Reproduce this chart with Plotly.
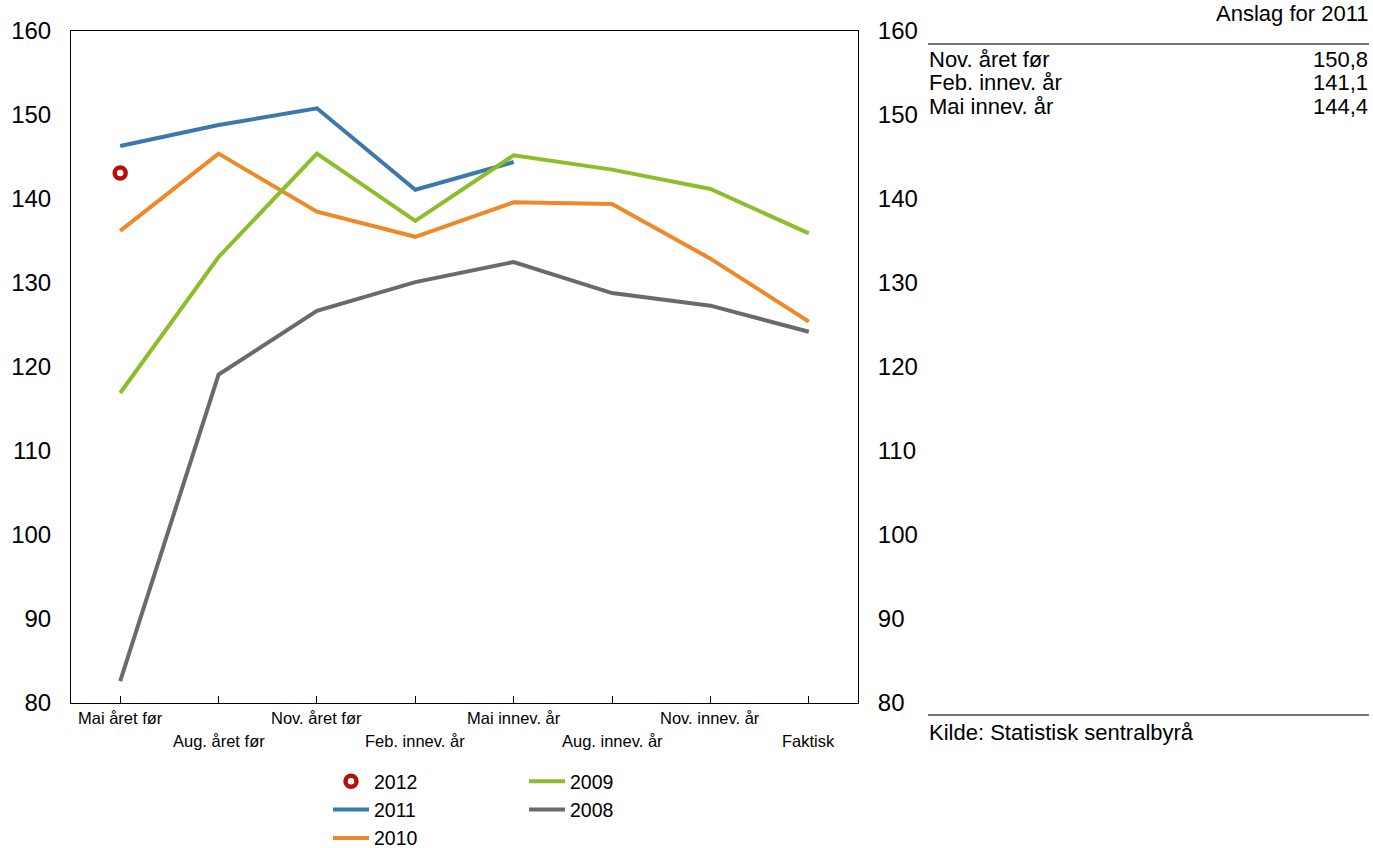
import plotly.graph_objects as go

categories = ["Mai året før", "Aug. året før", "Nov. året før", "Feb. innev. år",
              "Mai innev. år", "Aug. innev. år", "Nov. innev. år", "Faktisk"]
s2012 = [143.1]
s2011 = [146.3, 148.8, 150.8, 141.1, 144.4]
s2010 = [136.2, 145.4, 138.5, 135.5, 139.6, 139.4, 132.9, 125.4]
s2009 = [116.9, 133.1, 145.4, 137.4, 145.2, 143.5, 141.2, 135.9]
s2008 = [82.6, 119.1, 126.7, 130.1, 132.5, 128.8, 127.3, 124.2]
yticks = [80, 90, 100, 110, 120, 130, 140, 150, 160]

table_header = "Anslag for 2011"
table_rows = ["Nov. året før", "Feb. innev. år", "Mai innev. år"]
table_values = ["150,8", "141,1", "144,4"]
source = "Kilde: Statistisk sentralbyrå"

BLUE = "#3a78ad"
ORANGE = "#ef8826"
GREEN = "#8dbd2a"
GRAY = "#6a6a6a"
RED = "#b60f08"
FONT = "Liberation Sans, Arial, sans-serif"

W, H = 1373, 848
L, R, T, B = 71, 858, 31, 703

def px_x(p):
    return (p - L) / (R - L)

def px_y(p):
    return (B - p) / (B - T)

idx = list(range(len(categories)))
fig = go.Figure()
fig.add_trace(go.Scatter(x=idx[:len(s2012)], y=s2012, mode="markers", name="2012",
                         marker=dict(symbol="circle", size=11, color="white",
                                     line=dict(color=RED, width=4.5)),
                         legend="legend"))
fig.add_trace(go.Scatter(x=idx[:len(s2011)], y=s2011, mode="lines", name="2011",
                         line=dict(color=BLUE, width=4), legend="legend"))
fig.add_trace(go.Scatter(x=idx, y=s2010, mode="lines", name="2010",
                         line=dict(color=ORANGE, width=4), legend="legend"))
fig.add_trace(go.Scatter(x=idx, y=s2009, mode="lines", name="2009",
                         line=dict(color=GREEN, width=4), legend="legend2"))
fig.add_trace(go.Scatter(x=idx, y=s2008, mode="lines", name="2008",
                         line=dict(color=GRAY, width=4), legend="legend2"))

annotations = []
for i, c in enumerate(categories):
    annotations.append(dict(text=c, x=i, xref="x", y=0, yref="paper", yanchor="top",
                            xanchor="center", yshift=-4 if i % 2 == 0 else -27,
                            showarrow=False, font=dict(size=16.5, color="black", family=FONT)))

annotations.append(dict(text=table_header, x=px_x(1370), y=px_y(14), xref="paper", yref="paper",
                        xanchor="right", yanchor="middle", showarrow=False,
                        font=dict(size=22, color="black", family=FONT)))
for k, (r, v) in enumerate(zip(table_rows, table_values)):
    yy = px_y(60 + 23 * k)
    annotations.append(dict(text=r, x=px_x(927), y=yy, xref="paper", yref="paper",
                            xanchor="left", yanchor="middle", showarrow=False,
                            font=dict(size=22, color="black", family=FONT)))
    annotations.append(dict(text=v, x=px_x(1370), y=yy, xref="paper", yref="paper",
                            xanchor="right", yanchor="middle", showarrow=False,
                            font=dict(size=22, color="black", family=FONT)))
annotations.append(dict(text=source, x=px_x(927), y=px_y(732), xref="paper", yref="paper",
                        xanchor="left", yanchor="middle", showarrow=False,
                        font=dict(size=22, color="black", family=FONT)))

shapes = [
    dict(type="line", xref="paper", yref="paper", x0=px_x(928), x1=px_x(1369),
         y0=px_y(44), y1=px_y(44), line=dict(color="#444444", width=1.5)),
    dict(type="line", xref="paper", yref="paper", x0=px_x(928), x1=px_x(1369),
         y0=px_y(715), y1=px_y(715), line=dict(color="#444444", width=1.5)),
]

yaxis_common = dict(range=[80, 160], tickvals=yticks, showgrid=False, zeroline=False,
                    showline=True, linecolor="black", linewidth=1, ticks="",
                    tickfont=dict(size=24, color="black", family=FONT), ticklabelstandoff=14)

legend_font = dict(size=19.5, family=FONT, color="black")
fig.update_layout(
    width=W, height=H,
    margin=dict(l=L, r=W - R, t=T, b=H - B),
    paper_bgcolor="white", plot_bgcolor="white",
    font=dict(family=FONT, color="black"),
    xaxis=dict(range=[-0.5, 7.5], tickvals=idx, ticktext=[""] * len(idx), showgrid=False,
               zeroline=False, showline=True, linecolor="black", linewidth=1, mirror=True,
               ticks="inside", ticklen=7, tickcolor="black", tickwidth=1),
    yaxis=yaxis_common,
    yaxis2=dict(yaxis_common, overlaying="y", side="right", matches="y"),
    legend=dict(x=px_x(328), y=1 - 762 / H, xref="paper", yref="container", yanchor="top",
                xanchor="left", font=legend_font, bgcolor="rgba(0,0,0,0)",
                tracegroupgap=0, itemwidth=36),
    legend2=dict(x=px_x(524), y=1 - 762 / H, xref="paper", yref="container", yanchor="top",
                 xanchor="left", font=legend_font, bgcolor="rgba(0,0,0,0)",
                 tracegroupgap=0, itemwidth=36),
    annotations=annotations,
    shapes=shapes,
    showlegend=True,
)
fig.add_trace(go.Scatter(x=[None], y=[None], yaxis="y2", showlegend=False, hoverinfo="skip"))

fig.write_html("out.html", config={"displayModeBar": False},
               post_script="document.body.style.margin='0';")
